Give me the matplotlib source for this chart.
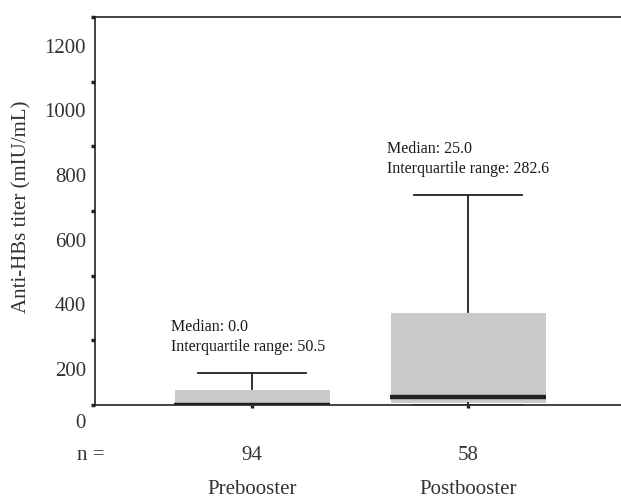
#!/usr/bin/env python3
"""Anti-HBs titer box plot, prebooster vs postbooster."""

import matplotlib

matplotlib.use("Agg")
import matplotlib.pyplot as plt
from matplotlib.transforms import ScaledTranslation, blended_transform_factory

# data (mIU/mL)
groups = ["Prebooster", "Postbooster"]
counts = [94, 58]
q1 = [0.0, 5.0]
medians = [0.0, 25.0]
q3 = [50.0, 287.0]
whisker_lo = [0.0, 0.0]
whisker_hi = [99.0, 649.0]
median_text = ["0.0", "25.0"]
iqr_text = ["50.5", "282.6"]
ytick_vals = [0, 200, 400, 600, 800, 1000, 1200]

plt.rcParams["font.family"] = ["Liberation Serif", "DejaVu Serif"]
INK = "#222222"
TXT = "#333333"

fig = plt.figure(figsize=(6.21, 4.97), dpi=100)
ax = fig.add_axes([95 / 621, 92 / 497, 526 / 621, 388 / 497])

positions = [1, 2]
stats = []
for i, g in enumerate(groups):
    stats.append(dict(label=g, q1=q1[i], med=medians[i], q3=q3[i],
                      whislo=whisker_lo[i], whishi=whisker_hi[i], fliers=[]))

ax.bxp(stats, positions=positions, widths=0.72, capwidths=0.5,
       showfliers=False, patch_artist=True,
       boxprops=dict(facecolor="#c8c9cb", edgecolor="white", linewidth=0.8),
       medianprops=dict(color=INK, linewidth=3.2, solid_capstyle="butt"),
       whiskerprops=dict(color=INK, linewidth=1.3),
       capprops=dict(color=INK, linewidth=1.3))

ax.set_xlim(0.273, 2.708)
ax.set_ylim(0, 1200)

ax.spines["right"].set_visible(False)
for side in ["left", "top", "bottom"]:
    ax.spines[side].set_color(INK)
    ax.spines[side].set_linewidth(1.2)
    ax.spines[side].set_zorder(3)

ax.set_yticks(ytick_vals)
ax.set_yticklabels([])
ax.tick_params(axis="y", direction="out", length=3, width=2.5, color=INK)
ax.set_xticks(positions)
ax.set_xticklabels([])
ax.tick_params(axis="x", direction="out", length=2.5, width=2.5, color=INK)

# y labels sit below their tick marks in the original
ylab_tr = blended_transform_factory(ax.transAxes, ax.transData)
for v in ytick_vals:
    dy = -13.5 if v == 0 else -22.5
    ax.text(-0.017, v, str(v), ha="right", va="center", fontsize=15,
            color=TXT, clip_on=False,
            transform=ylab_tr + ScaledTranslation(0, dy / 72, fig.dpi_scale_trans))

fig.text(22 / 621, 1 - 207 / 497, "Anti-HBs titer (mIU/mL)", rotation=90,
         ha="center", va="center", fontsize=15, color=TXT)

# n row and group names
xlab_tr = blended_transform_factory(ax.transData, fig.transFigure)
fig.text(77 / 621, 1 - 456 / 497, "n =", ha="left", va="center",
         fontsize=15, color=TXT)
for i, p in enumerate(positions):
    ax.text(p, 1 - 456 / 497, str(counts[i]), ha="center", va="center",
            fontsize=15, color=TXT, transform=xlab_tr)
    ax.text(p, 1 - 489 / 497, groups[i], ha="center", va="center",
            fontsize=15, color=TXT, transform=xlab_tr)

# annotations above whiskers
for i, p in enumerate(positions):
    ax.annotate(f"Median: {median_text[i]}\nInterquartile range: {iqr_text[i]}",
                xy=(p - 0.375, whisker_hi[i]), xytext=(0, 13),
                textcoords="offset points", ha="left", va="bottom",
                fontsize=11.5, color="#1a1a1a", linespacing=1.35)

fig.savefig("out.png", dpi=100)
